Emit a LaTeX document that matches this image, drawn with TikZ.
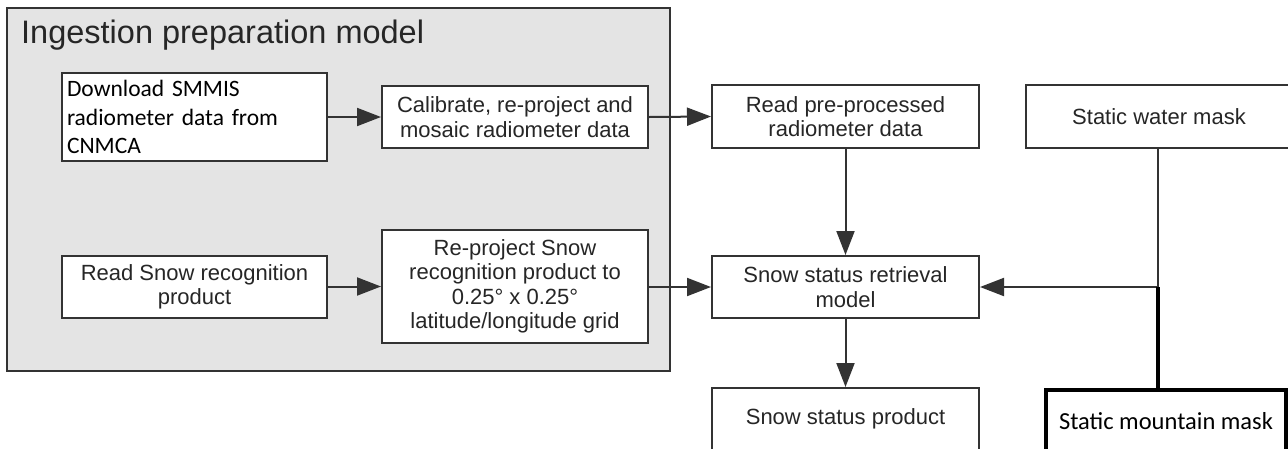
\documentclass[tikz,border=0pt]{standalone}
\usepackage{fontspec}
\setmainfont{Liberation Sans}
\newfontfamily\calfont{Carlito}
\usetikzlibrary{arrows.meta}
\definecolor{txt}{HTML}{262626}
\definecolor{ln}{HTML}{333333}
\definecolor{panel}{HTML}{E4E4E4}
\begin{document}
\begin{tikzpicture}[x=1pt,y=-1pt,
  box/.style={draw=ln,line width=2pt,fill=white,text=txt,align=center,
    font=\fontsize{22}{24.5}\selectfont,inner sep=0pt},
  conn/.style={draw=ln,line width=2pt,-{Triangle[length=24pt,width=18pt]}},
  ]
\useasboundingbox (0,0) rectangle (1288,448);
\clip (0,0) rectangle (1288,448);
\fill[white] (0,0) rectangle (1288,448);
% panel
\node[draw=ln,line width=2.4pt,fill=panel,minimum width=663pt,minimum height=363pt,inner sep=0pt] (panel) at (338.5,189.5) {};
\node[anchor=base west,text=txt,inner sep=0pt,font=\fontsize{32.5}{36}\selectfont] (title) at (21,43) {Ingestion preparation model};
% boxes
\node[box,minimum width=265pt,minimum height=88pt,text width=255pt,align=left,
  font=\calfont\fontsize{23.5}{28.5}\selectfont,text=black] (dl) at (194.5,117)
  {Download SMMIS\\radiometer data from\\CNMCA};
\node[box,minimum width=266pt,minimum height=62pt] (cal) at (515,117)
  {Calibrate, re-project and\\mosaic radiometer data};
\node[box,minimum width=265pt,minimum height=62pt] (rs) at (194.5,287)
  {Read Snow recognition\\product};
\node[box,minimum width=266pt,minimum height=113pt] (rp) at (515,286.5)
  {Re-project Snow\\recognition product to\\0.25° x 0.25°\\latitude/longitude grid};
\node[box,minimum width=267pt,minimum height=63pt] (rd) at (845.5,116.5)
  {Read pre-processed\\radiometer data};
\node[box,minimum width=266pt,minimum height=63pt] (wm) at (1159,116.5)
  {Static water mask};
\node[box,minimum width=267pt,minimum height=62pt] (sr) at (845.5,287)
  {Snow status retrieval\\model};
\node[box,minimum width=267pt,minimum height=62pt] (sp) at (845.5,419)
  {Snow status product};
\node[draw=black,line width=4pt,fill=white,text=black,inner sep=0pt,
  minimum width=240pt,minimum height=62pt,
  font=\calfont\fontsize{24.5}{28}\selectfont] (mm) at (1166,421)
  {Static mountain mask};
\coordinate (j) at (1158,287);
% connectors
\draw[conn] (dl.east |- cal) -- (cal.west);
\draw[conn] (cal.east) -- (rd.west);
\draw[conn] (rs.east |- rp) -- (rp.west);
\draw[conn] (rp.east |- sr) -- (sr.west);
\draw[conn] (rd.south) -- (sr.north);
\draw[conn] (sr.south) -- (sp.north);
\draw[draw=ln,line width=2pt] (wm.south -| j) -- (j);
\draw[conn] (j) -- (sr.east);
\draw[draw=black,line width=4pt] (j) -- (j |- mm.north);
\end{tikzpicture}
\end{document}
